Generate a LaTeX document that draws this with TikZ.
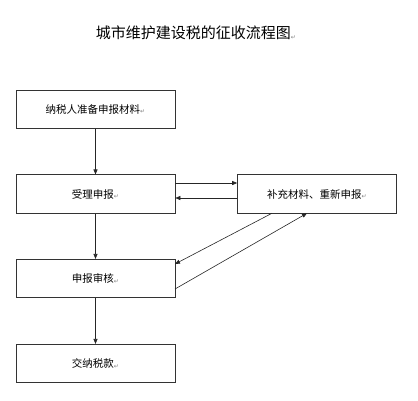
\documentclass[tikz,border=0pt]{standalone}
\usepackage{fontspec}
\setmainfont{Noto Sans CJK SC}
\newfontfamily\symfont{DejaVu Sans}
\usetikzlibrary{arrows.meta}
\newcommand{\pmark}{{\symfont\fontsize{6}{6}\selectfont\color{gray}\raisebox{-0.5pt}{↵}}}
\begin{document}
\begin{tikzpicture}[x=1pt,y=-1pt,
  boxnode/.style={draw=black!80,line width=0.6pt,minimum width=159pt,minimum height=38.5pt,inner sep=0pt,font=\fontsize{10.5}{12}\selectfont},
  conn/.style={draw=black!85,line width=0.6pt,-{Triangle[length=5pt,width=4pt]}}]
\useasboundingbox (0,0) rectangle (418,400);
\node (title) at (196,33) {\fontsize{15}{18}\selectfont 城市维护建设税的征收流程图\pmark};
\node[boxnode] (b1) at (95.5,109.5) {纳税人准备申报材料\pmark};
\node[boxnode] (b2) at (95.5,194) {受理申报\pmark};
\node[boxnode] (b3) at (317,194) {补充材料、重新申报\pmark};
\node[boxnode] (b4) at (95.5,278.5) {申报审核\pmark};
\node[boxnode] (b5) at (95.5,363.5) {交纳税款\pmark};
\draw[conn] (b1.south) -- (b2.north);
\draw[conn] (b2.south) -- (b4.north);
\draw[conn] (b4.south) -- (b5.north);
\draw[conn] (b2.east |- 0,183) -- (b3.west |- 0,183);
\draw[conn] (b3.west |- 0,198) -- (b2.east |- 0,198);
\coordinate (d1s) at (272,213.25);
\coordinate (d1e) at (175,264);
\coordinate (d2s) at (175,289);
\coordinate (d2e) at (307,213.25);
\draw[conn] (d1s) -- (d1e);
\draw[conn] (d2s) -- (d2e);
\end{tikzpicture}
\end{document}
